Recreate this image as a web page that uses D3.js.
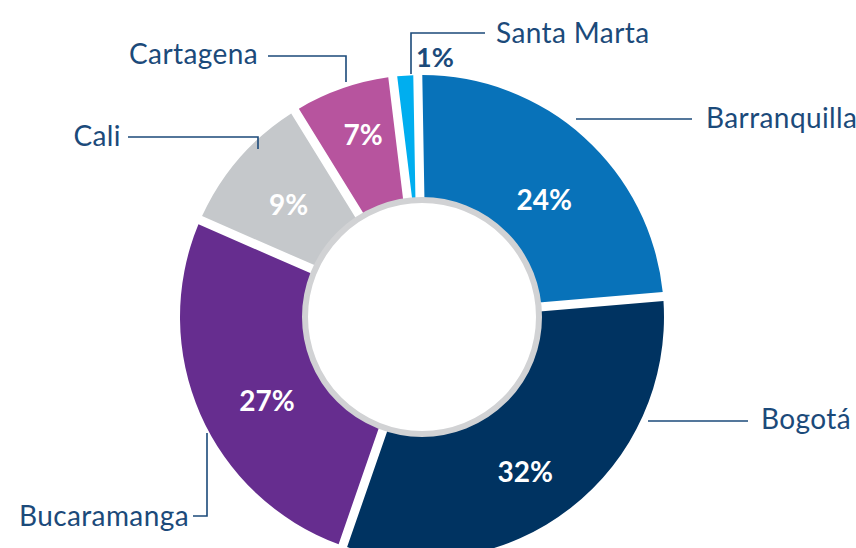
<!DOCTYPE html>
<html>
<head>
<meta charset="utf-8">
<script src="https://cdn.jsdelivr.net/npm/d3@7"></script>
<style>
  html, body { margin: 0; padding: 0; background: #fff; }
  svg { display: block; }
  .name { font-family: Lato, "Open Sans", sans-serif; font-weight: 400; font-size: 28px; letter-spacing: 0.4px; fill: #1b4a7a; }
  .pct { font-family: Lato, "Open Sans", sans-serif; font-weight: 700; font-size: 28px; fill: #fff; }
  .leader { fill: none; stroke: #1b4a7a; stroke-width: 1.6; }
</style>
</head>
<body>
<div id="chart"></div>
<script>
(function() {

  var width = 856,
      height = 548;

  var cities = ["Barranquilla", "Bogotá", "Bucaramanga", "Cali", "Cartagena", "Santa Marta"];
  var shares = [24.2, 32.2, 26.6, 9.4, 6.5, 1.1];
  var pctLabels = ["24%", "32%", "27%", "9%", "7%", "1%"];
  var colors = ["#0872b9", "#003361", "#662d8f", "#c5c8cb", "#b7549e", "#00aeef"];

  // layout for the leader lines and labels
  var leaders = [
    { pts: [[576, 119], [692, 119]], tx: 706, ty: 128, anchor: "start" },
    { pts: [[648, 421], [748, 421]], tx: 761, ty: 429, anchor: "start" },
    { pts: [[207, 433], [207, 516], [193, 516]], tx: 189, ty: 526, anchor: "end" },
    { pts: [[258, 149], [258, 137], [128, 137]], tx: 121, ty: 146, anchor: "end" },
    { pts: [[346, 82], [346, 56], [268, 56]], tx: 258, ty: 64, anchor: "end" },
    { pts: [[411, 74], [411, 33], [485, 33]], tx: 496, ty: 43, anchor: "start" }
  ];
  var pctNudge = [[3, 15], [-6, 14], [8, 12], [1, 5], [0, -14], null];

  var cx = 422, cy = 317,
      outerR = 242, innerR = 112,
      holeR = 117, labelR = 178,
      gap = 9;

  var svg = d3.select("#chart").append("svg")
      .attr("width", width)
      .attr("height", height);

  var start = -1 * Math.PI / 180;

  var pie = d3.pie()
      .sort(null)
      .startAngle(start)
      .endAngle(start + 2 * Math.PI)
      .padAngle(gap / outerR)
      .value(d => d);

  var arcs = pie(shares);

  var arc = d3.arc()
      .innerRadius(innerR)
      .outerRadius(outerR)
      .padRadius(outerR);

  var labelArc = d3.arc()
      .innerRadius(labelR)
      .outerRadius(labelR);

  var g = svg.append("g")
      .attr("transform", "translate(" + cx + "," + cy + ")");

  g.selectAll(".slice")
      .data(arcs)
    .enter().append("path")
      .attr("class", "slice")
      .attr("d", arc)
      .attr("fill", (d, i) => colors[i]);

  g.append("circle")
      .attr("r", holeR)
      .attr("fill", "#fff")
      .attr("stroke", "#d1d2d4")
      .attr("stroke-width", 6);

  g.selectAll(".pct")
      .data(arcs.filter((d, i) => pctNudge[i]))
    .enter().append("text")
      .attr("class", "pct")
      .attr("text-anchor", "middle")
      .attr("dy", "0.36em")
      .attr("transform", function(d) {
        var c = labelArc.centroid(d), n = pctNudge[d.index];
        return "translate(" + (c[0] + n[0]) + "," + (c[1] + n[1]) + ")";
      })
      .text(d => pctLabels[d.index]);

  var line = d3.line();

  svg.selectAll(".leader")
      .data(leaders)
    .enter().append("path")
      .attr("class", "leader")
      .attr("d", d => line(d.pts));

  svg.selectAll(".name")
      .data(leaders)
    .enter().append("text")
      .attr("class", "name")
      .attr("x", d => d.tx)
      .attr("y", d => d.ty)
      .attr("text-anchor", d => d.anchor)
      .text((d, i) => cities[i]);

  // the tiny slice gets its value outside
  svg.append("text")
      .attr("x", 416)
      .attr("y", 67)
      .style("font-family", "Lato, 'Open Sans', sans-serif")
      .style("font-weight", 700)
      .style("font-size", "27px")
      .style("fill", "#1b4a7a")
      .text(pctLabels[5]);

})();
</script>
</body>
</html>
